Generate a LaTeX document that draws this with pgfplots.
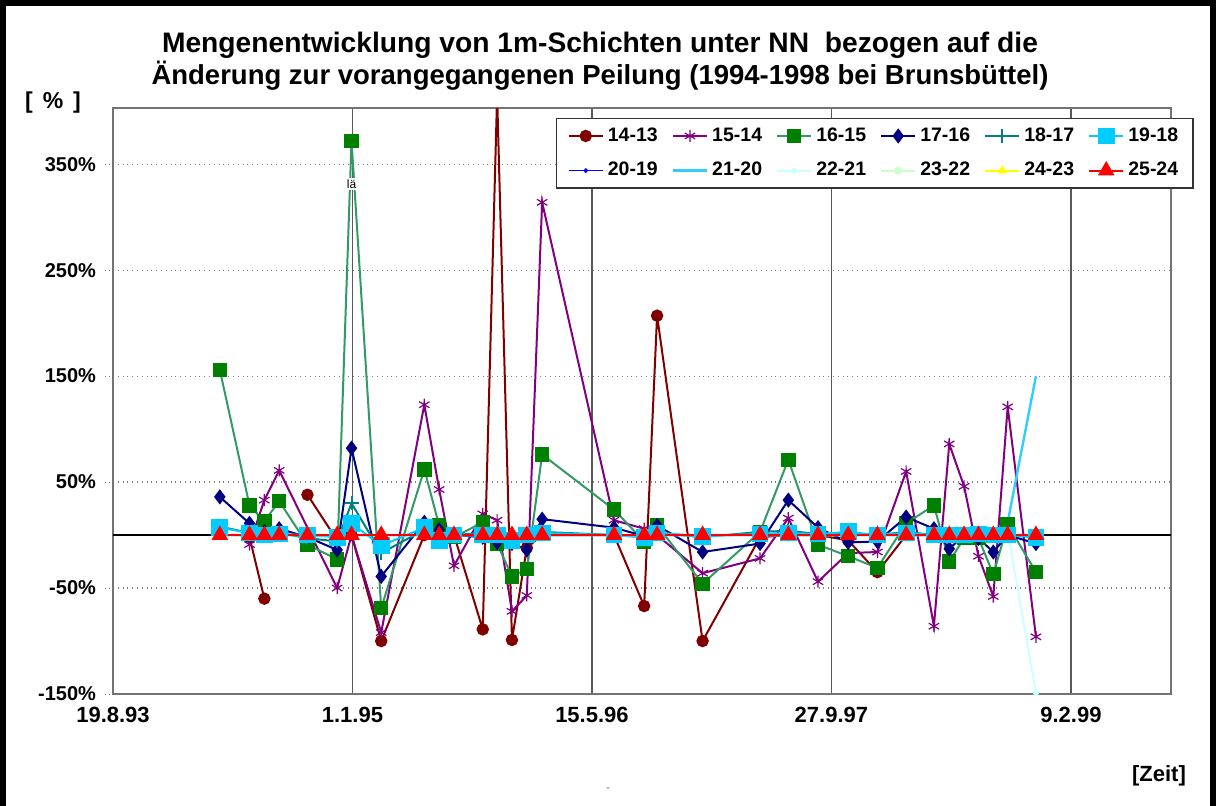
\documentclass[border=0pt]{standalone}
\usepackage{fontspec}
\setmainfont{Liberation Sans}
\usepackage{pgfplots}
\pgfplotsset{compat=1.18}

\definecolor{cA}{RGB}{128,0,0}
\definecolor{cB}{RGB}{128,0,128}
\definecolor{cCl}{RGB}{51,153,102}
\definecolor{cCm}{RGB}{0,128,0}
\definecolor{cD}{RGB}{0,0,128}
\definecolor{cE}{RGB}{0,128,128}
\definecolor{cF}{RGB}{0,204,255}
\definecolor{cG}{RGB}{0,0,255}
\definecolor{cH}{RGB}{51,204,255}
\definecolor{cI}{RGB}{204,255,255}
\definecolor{cJ}{RGB}{204,255,204}
\definecolor{cK}{RGB}{255,255,0}
\definecolor{cL}{RGB}{255,0,0}

\begin{document}
\begin{tikzpicture}
\useasboundingbox (0,0) rectangle (608pt,402.5pt);
\draw[line width=3pt] (1.5pt,-10pt) -- (1.5pt,401pt) -- (606.5pt,401pt) -- (606.5pt,-10pt);
\begin{axis}[
  at={(56.5pt,55.5pt)}, anchor=south west,
  scale only axis, width=529pt, height=293pt,
  xmin=0, xmax=2209, ymin=-150, ymax=403,
  xtick={0,500,1000,1500,2000},
  xticklabels={19.8.93,1.1.95,15.5.96,27.9.97,9.2.99},
  ytick={-150,-50,50,150,250,350},
  yticklabel={\pgfmathprintnumber[assume math mode=true]{\tick}\%},
  xticklabel style={font=\bfseries\fontsize{11}{13}\selectfont, yshift=1pt},
  yticklabel style={font=\bfseries\fontsize{10}{12}\selectfont, xshift=-1pt},
  xmajorgrids, ymajorgrids,
  x grid style={black!65, line width=0.75pt},
  y grid style={gray, dotted, line width=0.6pt},
  axis line style={black!55, line width=0.75pt},
  xtick style={draw=none},
  ytick style={gray, dotted},
  tick align=outside, major tick length=4pt, ytick pos=left,
  unbounded coords=jump,
  legend columns=6,
  legend style={at={(0.4187,0.983)}, anchor=north west,
    font=\bfseries\fontsize{9.75}{11}\selectfont, draw=black!80, line width=0.7pt,
    row sep=5pt, inner xsep=5.5pt, inner ysep=2.5pt,
    /tikz/every even column/.append style={column sep=5pt}},
  every axis plot/.append style={line width=1pt},
]
\draw[black, line width=1.2pt] (axis cs:0,0) -- (axis cs:2209,0);

% 14-13
\addplot[color=cA, mark=*, mark size=2.6pt] coordinates {
(285,-2) (316,-60) (347,nan) (406,38) (468,-5) (498,0) (560,-100) (650,0) (681,0) (712,0)
(772,-89) (802,415) (833,-99) (864,-12) (896,0) (1046,0) (1109,-67) (1136,207) (1231,-100)
(1351,-2) (1410,0) (1472,0) (1535,-5) (1596,-35) (1656,0) (1714,0) (1746,0) (1777,0)
(1807,0) (1838,0) (1868,0) (1927,0)};
\addlegendentry{14-13}
% 15-14
\addplot[color=cB, mark=asterisk, mark size=3pt, mark options={line width=0.6pt}] coordinates {
(285,-9) (316,33) (347,61) (468,-50) (498,0) (560,-92) (650,123) (681,43) (712,-29)
(772,20) (802,14) (833,-72) (864,-57) (896,314) (1046,14) (1109,6) (1136,0) (1231,-36)
(1351,-22) (1410,16) (1472,-44) (1535,-17) (1596,-16) (1656,60) (1714,-86) (1746,86)
(1777,46) (1807,-20) (1838,-58) (1868,121) (1927,-96)};
\addlegendentry{15-14}
% 16-15
\addplot[color=cCl, mark=square*, mark size=3.1pt, mark options={fill=cCm, draw=cCm}] coordinates {
(223,156) (285,28) (316,13) (347,32) (406,-9) (468,-23) (498,372) (560,-69) (650,62)
(681,9) (712,-2) (772,12) (802,-8) (833,-39) (864,-32) (896,76) (1046,24) (1109,-6)
(1136,9) (1231,-46) (1351,3) (1410,71) (1472,-9) (1535,-20) (1596,-31) (1656,11)
(1714,28) (1746,-25) (1777,-3) (1807,-3) (1838,-37) (1868,10) (1927,-35)};
\addlegendentry{16-15}
% 17-16
\addplot[color=cD, mark=diamond*, mark size=3pt] coordinates {
(223,36) (285,11) (316,3) (347,6) (406,-2) (468,-14) (498,82) (560,-39) (650,12)
(681,5) (712,0) (772,-2) (802,-7) (833,-8) (864,-14) (896,15) (1046,7) (1109,-1)
(1136,9) (1231,-16) (1351,-8) (1410,33) (1472,7) (1535,-7) (1596,-6) (1656,17)
(1714,6) (1746,-13) (1777,0) (1807,-3) (1838,-16) (1868,0) (1927,-8)};
\addlegendentry{17-16}
% 18-17
\addplot[color=cE, mark=+, mark size=3.5pt] coordinates {
(223,8) (285,2) (316,0) (347,2) (406,-3) (468,-6) (498,30) (560,-17) (650,5)
(681,0) (712,0) (772,2) (802,0) (833,-3) (864,0) (896,3) (1046,0) (1109,-2)
(1136,2) (1231,-2) (1351,3) (1410,4) (1472,1) (1535,2) (1596,0) (1656,3)
(1714,0) (1746,0) (1777,0) (1807,1) (1838,0) (1868,0) (1927,-2)};
\addlegendentry{18-17}
% 19-18
\addplot[color=cF, mark=square*, mark size=3.7pt] coordinates {
(223,7) (285,2) (316,0) (347,1) (406,0) (468,-2) (498,11) (560,-10) (650,7)
(681,-5) (712,0) (772,0) (802,0) (833,-5) (864,0) (896,2) (1046,0) (1109,-2)
(1136,2) (1231,-1) (1351,1) (1410,2) (1472,1) (1535,3) (1596,0) (1656,2)
(1714,0) (1746,0) (1777,0) (1807,1) (1838,0) (1868,0) (1927,-2)};
\addlegendentry{19-18}
% 20-19
\addplot[color=cG, line width=0.7pt, mark=*, mark size=0.8pt] coordinates {
(223,0) (285,0) (316,0) (347,0) (406,0) (468,0) (498,0) (560,0) (650,0)
(681,0) (712,0) (772,0) (802,0) (833,0) (864,0) (896,0) (1046,0) (1109,0)
(1136,0) (1231,0) (1351,0) (1410,0) (1472,0) (1535,0) (1596,0) (1656,0)
(1714,0) (1746,0) (1777,0) (1807,0) (1838,0) (1868,0) (1927,0)};
\addlegendentry{20-19}
% 21-20
\addplot[color=cH, line width=1.2pt, mark=none] coordinates {
(223,0) (285,0) (316,0) (347,0) (406,0) (468,0) (498,0) (560,0) (650,0)
(681,0) (712,0) (772,0) (802,0) (833,0) (864,0) (896,0) (1046,0) (1109,0)
(1136,0) (1231,0) (1351,0) (1410,0) (1472,0) (1535,0) (1596,0) (1656,0)
(1714,0) (1746,0) (1777,0) (1807,0) (1838,0) (1868,12) (1927,150)};
\addlegendentry{21-20}
% 22-21
\addplot[color=cI, mark=*, mark size=1pt] coordinates {
(223,0) (285,0) (316,0) (347,0) (406,0) (468,0) (498,0) (560,0) (650,0)
(681,0) (712,0) (772,0) (802,0) (833,0) (864,0) (896,0) (1046,0) (1109,0)
(1136,0) (1231,0) (1351,0) (1410,0) (1472,0) (1535,0) (1596,0) (1656,0)
(1714,0) (1746,0) (1777,0) (1807,0) (1838,0) (1868,3) (1927,-149)};
\addlegendentry{22-21}
% 23-22
\addplot[color=cJ, mark=*, mark size=1.5pt] coordinates {
(223,0) (285,0) (316,0) (347,0) (406,0) (468,0) (498,0) (560,0) (650,0)
(681,0) (712,0) (772,0) (802,0) (833,0) (864,0) (896,0) (1046,0) (1109,0)
(1136,0) (1231,0) (1351,0) (1410,0) (1472,0) (1535,0) (1596,0) (1656,0)
(1714,0) (1746,0) (1777,0) (1807,0) (1838,0) (1868,0) (1927,0)};
\addlegendentry{23-22}
% 24-23
\addplot[color=cK, mark=triangle*, mark size=1.8pt] coordinates {
(223,0) (285,0) (316,0) (347,0) (406,0) (468,0) (498,0) (560,0) (650,0)
(681,0) (712,0) (772,0) (802,0) (833,0) (864,0) (896,0) (1046,0) (1109,0)
(1136,0) (1231,0) (1351,0) (1410,0) (1472,0) (1535,0) (1596,0) (1656,0)
(1714,0) (1746,0) (1777,0) (1807,0) (1838,0) (1868,0) (1927,0)};
\addlegendentry{24-23}
% 25-24
\addplot[color=cL, mark=triangle*, mark size=3.8pt] coordinates {
(223,0) (285,0) (316,0) (347,0) (406,0) (468,0) (498,0) (560,0) (650,0)
(681,0) (712,0) (772,0) (802,0) (833,0) (864,0) (896,0) (1046,0) (1109,0)
(1136,0) (1231,0) (1351,0) (1410,0) (1472,0) (1535,0) (1596,0) (1656,0)
(1714,0) (1746,0) (1777,0) (1807,0) (1838,0) (1868,0) (1927,0)};
\addlegendentry{25-24}

\node[fill=white, inner sep=0.8pt, font=\fontsize{6}{7}\selectfont] at (axis cs:498,331) {lä};
\end{axis}
\node[anchor=base, font=\bfseries\fontsize{14.1}{16}\selectfont] at (300pt,376pt) {Mengenentwicklung von 1m-Schichten unter NN\ \ bezogen auf die};
\node[anchor=base, font=\bfseries\fontsize{13.75}{16}\selectfont] at (300pt,360pt) {Änderung zur vorangegangenen Peilung (1994-1998 bei Brunsbüttel)};
\node[font=\bfseries\fontsize{11.5}{13}\selectfont] at (26.5pt,351pt) {[\hspace{5pt}\%\hspace{5pt}]};
\node[font=\bfseries\fontsize{11}{12}\selectfont] at (579.5pt,14.5pt) {[Zeit]};
\node[text=gray, font=\fontsize{6}{7}\selectfont] at (304pt,7.5pt) {-};
\end{tikzpicture}
\end{document}
